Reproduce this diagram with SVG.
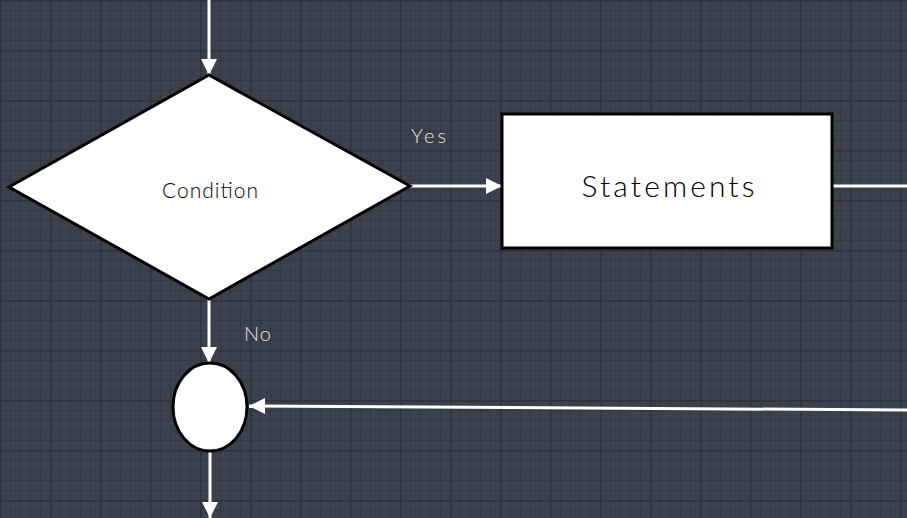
<svg xmlns="http://www.w3.org/2000/svg" width="907" height="518" viewBox="0 0 907 518">
<defs>
<pattern id="minor" width="10" height="10" patternUnits="userSpaceOnUse">
<rect width="10" height="10" fill="#3b414d"/>
<path d="M0 0.5H10M0.5 0V10" stroke="#333844" stroke-width="1"/>
</pattern>
<pattern id="major" width="50" height="50" patternUnits="userSpaceOnUse">
<path d="M0 1H50M1 0V50" stroke="#2a2e37" stroke-width="2" opacity="0.5"/>
</pattern>
<marker id="ah" viewBox="0 0 16 16" refX="16" refY="8" markerWidth="16" markerHeight="16" markerUnits="userSpaceOnUse" orient="auto">
<path d="M0 0L16 8L0 16Z" fill="#ffffff"/>
</marker>
</defs>
<style>
.shape{fill:#ffffff;stroke:#000000;stroke-width:3}
.conn{stroke:#ffffff;stroke-width:3;fill:none}
.lbl{font-family:Lato,"Liberation Sans",sans-serif;font-weight:300;fill:#e0e0e0;font-size:20px}
.txt{font-family:Lato,"Liberation Sans",sans-serif;font-weight:300;fill:#000000;text-anchor:middle}
</style>
<rect width="907" height="518" fill="url(#minor)"/>
<rect width="907" height="518" fill="url(#major)"/>
<g id="connectors">
<line class="conn" x1="209" y1="0" x2="209" y2="75" marker-end="url(#ah)"/>
<line class="conn" x1="410" y1="186" x2="502" y2="186" marker-end="url(#ah)"/>
<line class="conn" x1="832" y1="186" x2="907" y2="186"/>
<line class="conn" x1="209" y1="299" x2="209" y2="363" marker-end="url(#ah)"/>
<line class="conn" x1="907" y1="410" x2="249" y2="406" marker-end="url(#ah)"/>
<line class="conn" x1="210" y1="451" x2="210" y2="518" marker-end="url(#ah)"/>
<text class="lbl" x="411" y="143" textLength="35" lengthAdjust="spacing">Yes</text>
<text class="lbl" x="244" y="341" textLength="27" lengthAdjust="spacing">No</text>
</g>
<g id="condition">
<polygon class="shape" points="9,187 209,75 410,186 209,299" stroke-width="2"/>
<text class="txt" x="210" y="198" font-size="21" textLength="96" lengthAdjust="spacing">Condition</text>
</g>
<g id="statements">
<rect class="shape" x="502" y="114" width="330" height="134"/>
<text class="txt" x="668" y="197" font-size="30" textLength="173" lengthAdjust="spacing">Statements</text>
</g>
<g id="merge">
<ellipse class="shape" cx="210" cy="407" rx="37" ry="44"/>
</g>
</svg>
